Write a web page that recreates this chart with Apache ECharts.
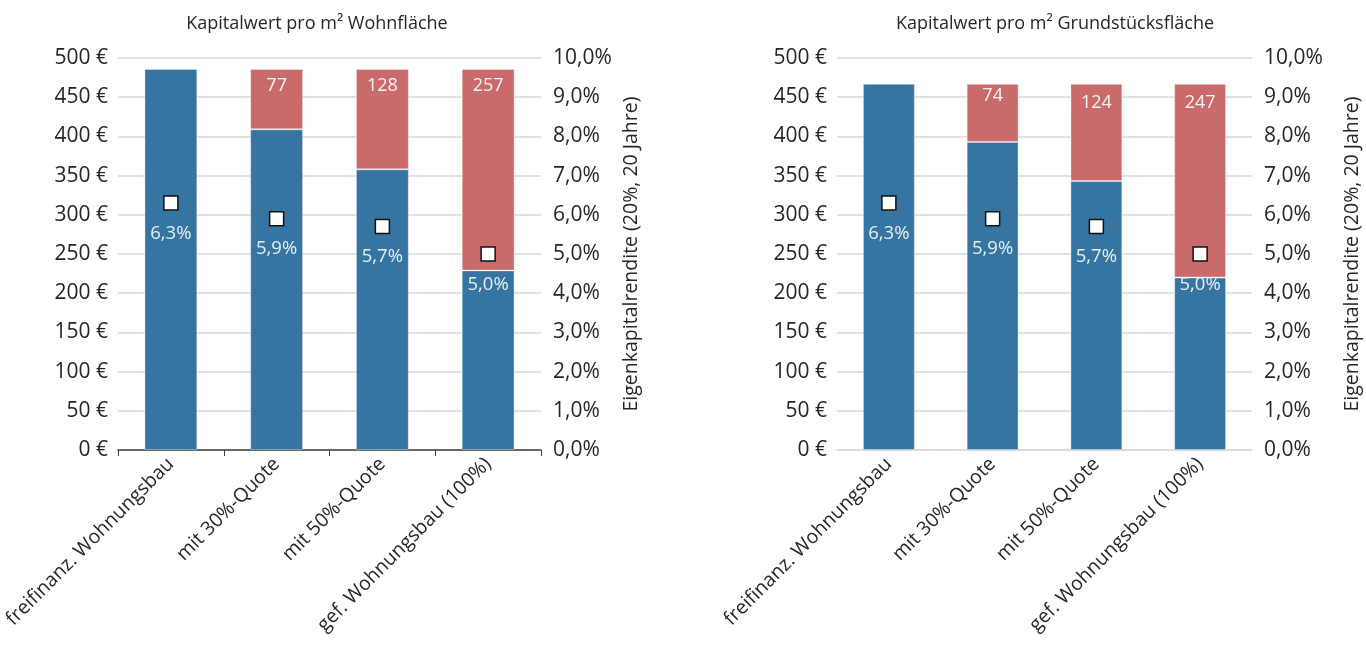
<!DOCTYPE html>
<html><head><meta charset="utf-8">
<script src="https://cdn.jsdelivr.net/npm/echarts@6/dist/echarts.min.js"></script>
<style>html,body{margin:0;padding:0;background:#fff}#c{width:1366px;height:648px}</style>
</head><body><div id="c"></div>
<script>
const categories = ['freifinanz. Wohnungsbau', 'mit 30%-Quote', 'mit 50%-Quote', 'gef. Wohnungsbau (100%)'];
const titles = ['Kapitalwert pro m² Wohnfläche', 'Kapitalwert pro m² Grundstücksfläche'];
const yAxisName = 'Eigenkapitalrendite (20%, 20 Jahre)';
// Wohnfläche
const blueWohn = [486, 409, 358, 229];
const redWohn = [null, 77, 128, 257];
const renditeWohn = [6.3, 5.9, 5.7, 5.0];
// Grundstücksfläche
const blueGrund = [467, 393, 343, 220];
const redGrund = [null, 74, 124, 247];
const renditeGrund = [6.3, 5.9, 5.7, 5.0];

const FONT = '"Open Sans", "Noto Sans", sans-serif';
const TXT = '#262626';
const BLUE = '#3674a1';
const RED = '#cb6a6b';
const GRID = '#d9d9d9';
// label distances inside the red segments (styling only)
const redLabelDist = [[8, 8, 8, 8], [8, 3, 10, 10]];

const grids = [
  {left: 118, width: 423, top: 58, height: 392},
  {left: 837, width: 415, top: 58, height: 392}
];
function xAxis(i, dark) {
  return {
    type: 'category', gridIndex: i, data: categories,
    axisLine: {show: true, lineStyle: {color: dark ? '#404040' : GRID, width: 1.5}},
    axisTick: {show: dark, alignWithLabel: false, length: 6, lineStyle: {color: '#404040'}},
    axisLabel: {rotate: 45, fontSize: 19.5, color: TXT, fontFamily: FONT, margin: 11, interval: 0}
  };
}
function yLeft(i) {
  return {
    type: 'value', gridIndex: i, min: 0, max: 500, interval: 50, position: 'left',
    axisLine: {show: false}, axisTick: {show: false},
    splitLine: {show: true, lineStyle: {color: GRID, width: 1.5}},
    axisLabel: {fontSize: 21, color: TXT, fontFamily: FONT, margin: 10, formatter: v => v + ' €'}
  };
}
function yRight(i, gap) {
  return {
    type: 'value', gridIndex: i, min: 0, max: 10, interval: 1, position: 'right',
    axisLine: {show: false}, axisTick: {show: false}, splitLine: {show: false},
    axisLabel: {fontSize: 21, color: TXT, fontFamily: FONT, margin: 12, formatter: v => v.toFixed(1).replace('.', ',') + '%'},
    name: yAxisName, nameLocation: 'middle', nameGap: gap, nameRotate: 90,
    nameTextStyle: {fontSize: 19.5, color: TXT, fontFamily: FONT}
  };
}
function seriesFor(i, blue, red, rend) {
  const xi = i, yl = i * 2, yr = i * 2 + 1;
  return [
    {type: 'bar', xAxisIndex: xi, yAxisIndex: yl, stack: 's' + i, data: blue, barWidth: '50%',
      itemStyle: {color: BLUE, borderColor: 'rgba(255,255,255,0.35)', borderWidth: 1}},
    {type: 'bar', xAxisIndex: xi, yAxisIndex: yl, stack: 's' + i, barWidth: '50%',
      data: red.map((v, k) => ({value: v, label: {distance: redLabelDist[i][k]}})),
      itemStyle: {color: RED, borderColor: 'rgba(255,255,255,0.35)', borderWidth: 1},
      label: {show: true, position: 'insideTop', color: '#f5f5f5', fontSize: 18, fontFamily: FONT}},
    {type: 'scatter', xAxisIndex: xi, yAxisIndex: yr, data: rend, symbol: 'rect', symbolSize: 14,
      itemStyle: {color: '#ffffff', borderColor: '#111', borderWidth: 1.5, opacity: 1},
      label: {show: true, position: 'bottom', distance: 13, color: '#e6eef5', fontSize: 18.5, fontFamily: FONT,
        formatter: p => p.value.toFixed(1).replace('.', ',') + '%'}, z: 5}
  ];
}
const chart = echarts.init(document.getElementById('c'));
chart.setOption({
  animation: false,
  title: [
    {text: titles[0], left: 312, top: 10, textAlign: 'center', textStyle: {fontSize: 18, fontWeight: 'normal', color: TXT, fontFamily: FONT}},
    {text: titles[1], left: 1050, top: 10, textAlign: 'center', textStyle: {fontSize: 18, fontWeight: 'normal', color: TXT, fontFamily: FONT}}
  ],
  grid: grids,
  xAxis: [xAxis(0, true), xAxis(1, false)],
  yAxis: [yLeft(0), yRight(0, 80), yLeft(1), yRight(1, 90)],
  series: [...seriesFor(0, blueWohn, redWohn, renditeWohn), ...seriesFor(1, blueGrund, redGrund, renditeGrund)]
});
</script></body></html>
